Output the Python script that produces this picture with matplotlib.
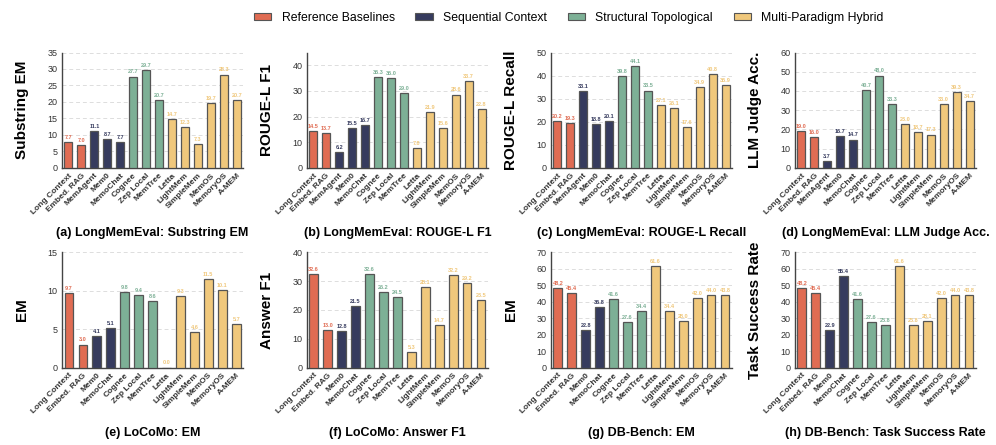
import matplotlib.pyplot as plt
from matplotlib.patches import Patch

plt.rcParams['font.family'] = ['Liberation Sans', 'DejaVu Sans']

# ---- categories and colours ----
group_names = ["Reference Baselines", "Sequential Context",
               "Structural Topological", "Multi-Paradigm Hybrid"]
group_colors = ["#E06C53", "#363B5E", "#7DB096", "#F0C87C"]

methods_top = ["Long Context", "Embed. RAG", "MemAgent", "Mem0", "MemoChat",
               "Cognee", "Zep Local", "MemTree", "Letta", "LightMem",
               "SimpleMem", "MemOS", "MemoryOS", "A-MEM"]
groups_top = [0, 0, 1, 1, 1, 2, 2, 2, 3, 3, 3, 3, 3, 3]

methods_bot = ["Long Context", "Embed. RAG", "Mem0", "MemoChat",
               "Cognee", "Zep Local", "MemTree", "Letta", "LightMem",
               "SimpleMem", "MemOS", "MemoryOS", "A-MEM"]
groups_bot = [0, 0, 1, 1, 2, 2, 2, 3, 3, 3, 3, 3, 3]

# ---- LongMemEval ----
lme_substring_em = [7.7, 7.0, 11.1, 8.7, 7.7, 27.7, 29.7, 20.7, 14.7, 12.3, 7.3, 19.7, 28.3, 20.7]
lme_rouge_f1 = [14.5, 13.7, 6.2, 15.5, 16.7, 35.3, 35.0, 29.0, 7.8, 21.9, 15.6, 28.6, 33.7, 22.8]
lme_rouge_recall = [20.2, 19.3, 33.1, 18.8, 20.1, 39.8, 44.1, 33.5, 27.1, 26.1, 17.6, 34.9, 40.8, 35.9]
lme_judge = [19.0, 16.0, 3.7, 16.7, 14.7, 40.7, 48.0, 33.3, 23.0, 18.7, 17.3, 33.0, 39.3, 34.7]

# ---- LoCoMo ----
locomo_em = [9.7, 3.0, 4.1, 5.1, 9.8, 9.4, 8.6, 0.0, 9.3, 4.6, 11.5, 10.1, 5.7]
locomo_f1 = [32.6, 13.0, 12.8, 21.5, 32.6, 26.2, 24.5, 5.3, 28.1, 14.7, 32.2, 29.2, 23.5]

# ---- DB-Bench ----
db_em = [48.2, 45.4, 22.8, 36.8, 41.6, 27.6, 34.4, 61.6, 34.4, 28.0, 42.0, 44.0, 43.8]
db_success = [48.2, 45.4, 22.9, 55.4, 41.6, 27.6, 25.8, 61.6, 25.8, 28.1, 42.0, 44.0, 43.8]

panels = [
    (lme_substring_em, methods_top, groups_top, "Substring EM", "(a) LongMemEval: Substring EM", 35, 5),
    (lme_rouge_f1, methods_top, groups_top, "ROUGE-L F1", "(b) LongMemEval: ROUGE-L F1", 45, 10),
    (lme_rouge_recall, methods_top, groups_top, "ROUGE-L Recall", "(c) LongMemEval: ROUGE-L Recall", 50, 10),
    (lme_judge, methods_top, groups_top, "LLM Judge Acc.", "(d) LongMemEval: LLM Judge Acc.", 60, 10),
    (locomo_em, methods_bot, groups_bot, "EM", "(e) LoCoMo: EM", 15, 5),
    (locomo_f1, methods_bot, groups_bot, "Answer F1", "(f) LoCoMo: Answer F1", 40, 10),
    (db_em, methods_bot, groups_bot, "EM", "(g) DB-Bench: EM", 70, 10),
    (db_success, methods_bot, groups_bot, "Task Success Rate", "(h) DB-Bench: Task Success Rate", 70, 10),
]

fig = plt.figure(figsize=(9.96, 4.45), dpi=100)

lefts = [0.0622, 0.308, 0.553, 0.798]
bottoms = [0.623, 0.174]
w, h = 0.182, 0.259

for i, (vals, names, grp, ylab, title, ymax, step) in enumerate(panels):
    ax = fig.add_axes([lefts[i % 4], bottoms[i // 4], w, h])
    x = list(range(len(vals)))
    cols = [group_colors[g] for g in grp]
    ax.bar(x, vals, width=0.62, color=cols, edgecolor="#555555", linewidth=0.9, zorder=3)
    for xi, v, c in zip(x, vals, cols):
        ax.annotate(f"{v:.1f}", (xi, v), xytext=(0, 1.5), textcoords="offset points",
                    ha="center", va="bottom", fontsize=4, fontweight="bold", color=c)
    ax.set_xlim(-0.5, len(vals) - 0.5)
    ax.set_ylim(0, ymax)
    ax.set_yticks(range(0, ymax + 1, step))
    ax.yaxis.grid(True, linestyle=(0, (4, 3)), color="#dddddd", linewidth=0.7, zorder=0)
    ax.set_axisbelow(True)
    ax.set_xticks(x)
    ax.set_xticklabels(names, rotation=45, ha="right", rotation_mode="anchor",
                       fontsize=6, fontweight="bold")
    ax.tick_params(axis="both", length=0, colors="#333333")
    ax.tick_params(axis="y", labelsize=6.5, pad=3)
    ax.tick_params(axis="x", pad=3)
    for s in ["top", "right"]:
        ax.spines[s].set_visible(False)
    for s in ["left", "bottom"]:
        ax.spines[s].set_color("#444444")
        ax.spines[s].set_linewidth(1.0)
    ax.set_ylabel(ylab, fontsize=11, fontweight="bold")
    ax.yaxis.set_label_coords(-0.18, 0.5)
    ax.text(0.5, -0.57, title, transform=ax.transAxes, ha="center", va="center",
            fontsize=9, fontweight="bold")

handles = [Patch(facecolor=c, edgecolor="#555555", linewidth=0.8) for c in group_colors]
fig.legend(handles, group_names, loc="center", bbox_to_anchor=(0.571, 0.96), ncol=4,
           frameon=False, fontsize=8.8, handlelength=1.4, handleheight=0.55,
           handletextpad=0.85, columnspacing=1.7)

plt.savefig("out.png", dpi=100)
